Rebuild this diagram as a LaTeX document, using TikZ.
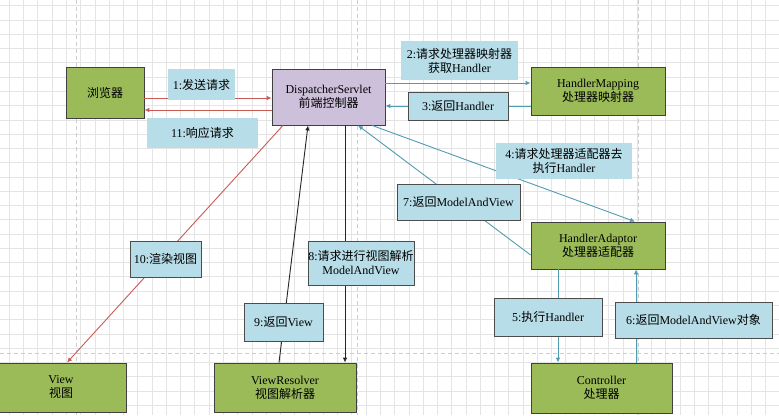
\documentclass[tikz,border=0pt]{standalone}
\usepackage{fontspec}
\setmainfont{Liberation Serif}
\newfontfamily\cjk{Noto Sans CJK SC}
\usetikzlibrary{arrows.meta}
\definecolor{boxgreen}{HTML}{9BBB59}
\definecolor{boxpurple}{HTML}{CCC0DA}
\definecolor{tagblue}{HTML}{B7DDE8}
\definecolor{flowteal}{HTML}{4F9DB3}
\definecolor{flowred}{HTML}{C95B55}
\definecolor{gridgray}{HTML}{E4E4E4}
\definecolor{laneline}{HTML}{CDCDCD}
\newcommand{\zh}[1]{{\cjk #1}}

\begin{document}
\begin{tikzpicture}[x=1pt,y=-1pt,
  every node/.style={font=\fontsize{12}{14}\selectfont,align=center,inner sep=0pt},
  comp/.style={draw=black!75,line width=0.8pt,fill=boxgreen},
  tag/.style={fill=tagblue},
  tagbox/.style={tag,draw=black!70,line width=0.8pt},
  tealarr/.style={flowteal,line width=0.9pt,-{Latex[length=5pt,width=4.5pt]}},
  redarr/.style={flowred,line width=0.9pt,-{Latex[length=5pt,width=4.5pt]}},
  blackarr/.style={black!85,line width=0.9pt,-{Latex[length=5pt,width=4.5pt]}},
  lane/.style={laneline,line width=0.9pt,dash pattern=on 4pt off 3pt}]
  \useasboundingbox[fill=white] (0,0) rectangle (779,415);
  % background grid
  \foreach \i in {0,...,54}
    \draw[gridgray,line width=0.7pt] ({9.3+14.27*\i},0) -- ++(0,415);
  \foreach \j in {0,...,28}
    \draw[gridgray,line width=0.7pt] (0,{5.7+14.27*\j}) -- ++(779,0);
  \draw[lane] (76,0) -- (76,415);
  \draw[lane] (357,0) -- (357,415);
  \draw[lane] (638,0) -- (638,415);
  \draw[lane] (0,353) -- (779,353);

  % components
  \node[comp,minimum width=78pt,minimum height=51pt] (browser) at (105,92.5) {\zh{浏览器}};
  \node[comp,fill=boxpurple,minimum width=113pt,minimum height=56pt] (ds) at (328.5,97)
    {DispatcherServlet\\\zh{前端控制器}};
  \node[comp,minimum width=134pt,minimum height=48pt] (hm) at (598,91)
    {HandlerMapping\\\zh{处理器映射器}};
  \node[comp,minimum width=134pt,minimum height=47pt] (ha) at (598,245.5)
    {HandlerAdaptor\\\zh{处理器适配器}};
  \node[comp,minimum width=141pt,minimum height=50pt] (ctrl) at (601.5,388)
    {Controller\\\zh{处理器}};
  \node[comp,minimum width=130pt,minimum height=49pt] (view) at (61,387.5)
    {View\\\zh{视图}};
  \node[comp,minimum width=142pt,minimum height=49pt] (vr) at (285,387.5)
    {ViewResolver\\\zh{视图解析器}};

  % connectors
  \draw[redarr] ([yshift=-5.5pt]browser.east) -- ([yshift=-5.5pt]browser.east -| ds.west);
  \draw[redarr] ([yshift=-17.5pt]browser.east -| ds.west) -- ([yshift=-17.5pt]browser.east);
  \draw[tealarr] ([yshift=14pt]ds.east) -- ([yshift=14pt]ds.east -| hm.west);
  \draw[tealarr] ([yshift=-9pt]ds.east -| hm.west) -- ([yshift=-9pt]ds.east);
  \draw[tealarr] ([xshift=43.5pt]ds.south) -- ([xshift=37pt]ha.north);
  \draw[tealarr] ([yshift=-9.5pt]ha.west) -- ([xshift=29.5pt]ds.south);
  \draw[tealarr] ([xshift=-40pt]ha.south) -- ([xshift=-40pt]ha.south |- ctrl.north);
  \draw[tealarr] ([xshift=38pt]ha.south |- ctrl.north) -- ([xshift=38pt]ha.south);
  \draw[blackarr] ([xshift=16.5pt]ds.south) -- ([xshift=16.5pt]ds.south |- vr.north);
  \draw[blackarr] ([xshift=-6pt]vr.north) -- ([xshift=-20.5pt]ds.south);
  \draw[redarr] ([xshift=-45.5pt]ds.south) -- ([xshift=6pt]view.north);

  % step labels
  \node[tag,minimum width=67pt,minimum height=31pt] (l1) at (201.5,84.5) {1:\zh{发送请求}};
  \node[tag,minimum width=111pt,minimum height=30pt] (l11) at (202.5,133) {11:\zh{响应请求}};
  \node[tag,minimum width=117pt,minimum height=39pt] (l2) at (459.5,60.5)
    {2:\zh{请求处理器映射器}\\\zh{获取}Handler};
  \node[tagbox,minimum width=100pt,minimum height=28pt] (l3) at (458,106) {3:\zh{返回}Handler};
  \node[tag,minimum width=136pt,minimum height=36pt] (l4) at (564,161)
    {4:\zh{请求处理器适配器去}\\\zh{执行}Handler};
  \node[tagbox,minimum width=123pt,minimum height=36pt] (l7) at (458.5,202) {7:\zh{返回}ModelAndView};
  \node[tagbox,minimum width=108pt,minimum height=38pt] (l5) at (548,317) {5:\zh{执行}Handler};
  \node[tagbox,minimum width=157pt,minimum height=36pt] (l6) at (693.5,320)
    {6:\zh{返回}ModelAndView\zh{对象}};
  \node[tagbox,minimum width=106pt,minimum height=44pt] (l8) at (361,263)
    {8:\zh{请求进行视图解析}\\ModelAndView};
  \node[tagbox,minimum width=79pt,minimum height=38pt] (l9) at (283.5,322) {9:\zh{返回}View};
  \node[tagbox,minimum width=71pt,minimum height=36pt] (l10) at (165.5,259) {10:\zh{渲染视图}};
\end{tikzpicture}
\end{document}
